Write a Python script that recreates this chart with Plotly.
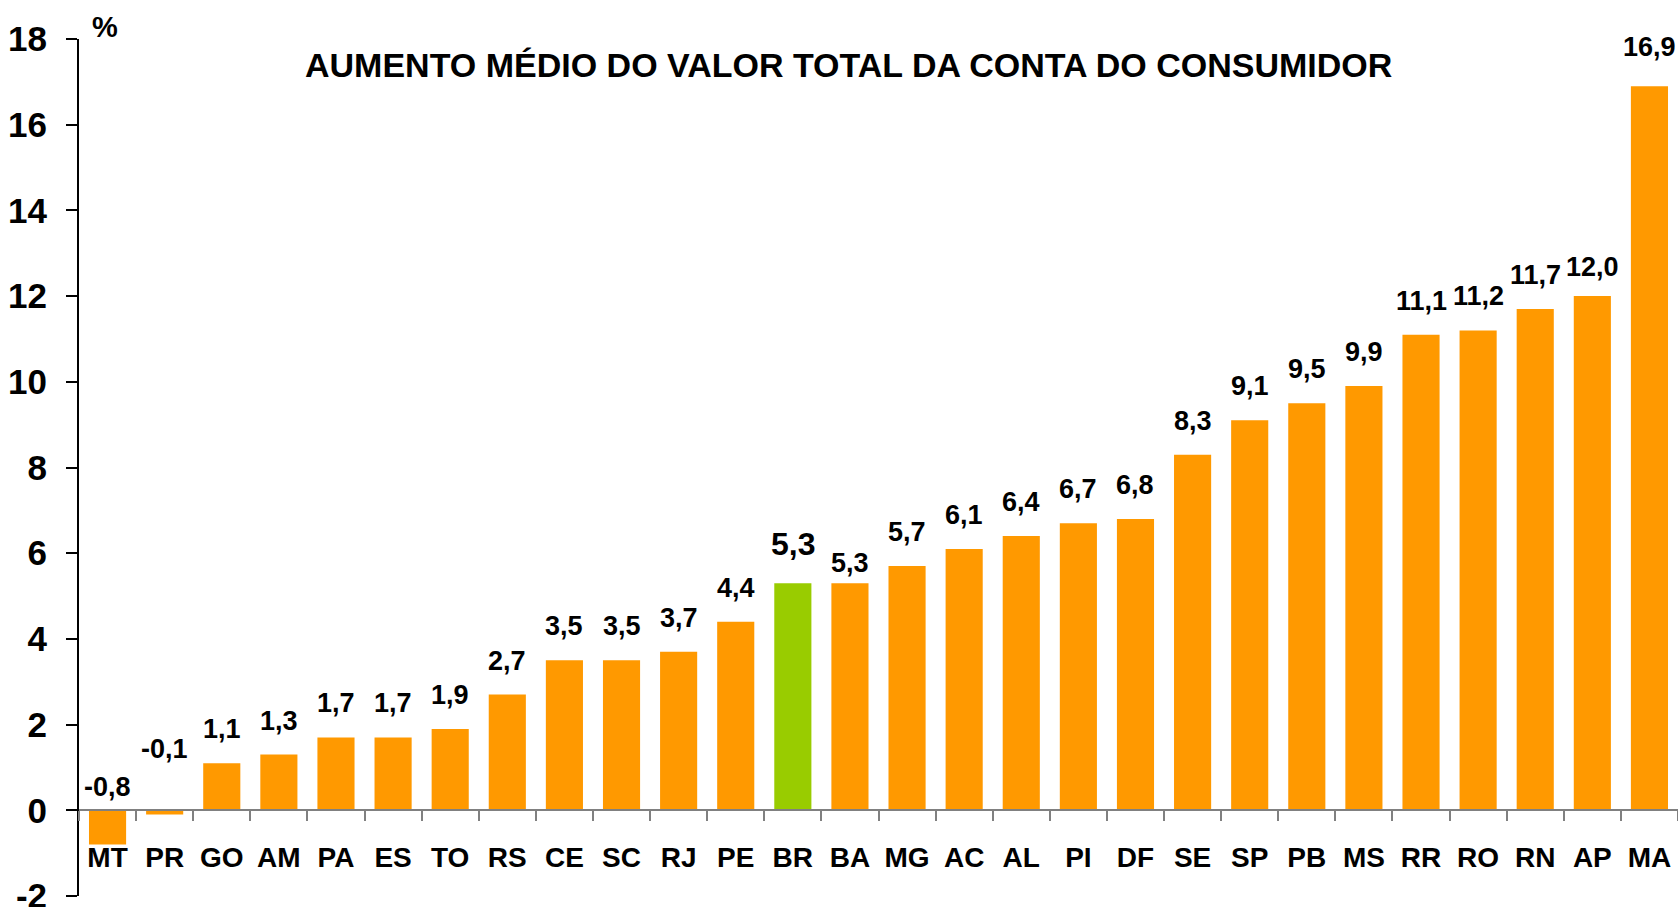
import plotly.graph_objects as go

# ---- data ----
states = ["MT", "PR", "GO", "AM", "PA", "ES", "TO", "RS", "CE", "SC", "RJ", "PE", "BR", "BA",
          "MG", "AC", "AL", "PI", "DF", "SE", "SP", "PB", "MS", "RR", "RO", "RN", "AP", "MA"]
values = [-0.8, -0.1, 1.1, 1.3, 1.7, 1.7, 1.9, 2.7, 3.5, 3.5, 3.7, 4.4, 5.3, 5.3,
          5.7, 6.1, 6.4, 6.7, 6.8, 8.3, 9.1, 9.5, 9.9, 11.1, 11.2, 11.7, 12.0, 16.9]
highlight = "BR"
y_ticks = [-2, 0, 2, 4, 6, 8, 10, 12, 14, 16, 18]
title_text = "AUMENTO MÉDIO DO VALOR TOTAL DA CONTA DO CONSUMIDOR"

# ---- style ----
ORANGE = "#FF9900"
GREEN = "#99CC00"
FONT = "Liberation Sans, Arial, sans-serif"
label_shift = 34
label_nudge = {"MT": -11, "PR": 27, "BA": -14, "BR": 5, "MA": 5, "AP": -5}

colors = [GREEN if s == highlight else ORANGE for s in states]

fig = go.Figure()
fig.add_trace(go.Bar(x=states, y=values, marker=dict(color=colors, line=dict(width=0)),
                     hoverinfo="x+y"))

def fmt(v):
    return f"{v:.1f}".replace(".", ",")

annotations = []
for s, v in zip(states, values):
    big = s == highlight
    annotations.append(dict(
        x=s, y=max(v, 0), xref="x", yref="y", text=fmt(v), showarrow=False,
        yanchor="middle", xanchor="center",
        yshift=label_shift + label_nudge.get(s, 0),
        font=dict(family=FONT, size=32 if big else 27, color="black", weight="bold"),
    ))

annotations.append(dict(
    x=(848 - 79) / 1599, y=(896 - 65) / 857, xref="paper", yref="paper",
    text=title_text, showarrow=False, xanchor="center", yanchor="middle",
    font=dict(family=FONT, size=34, color="black", weight="bold"),
))
annotations.append(dict(
    x=(105 - 79) / 1599, y=(896 - 27) / 857, xref="paper", yref="paper",
    text="%", showarrow=False, xanchor="center", yanchor="middle",
    font=dict(family=FONT, size=29, color="black", weight="bold"),
))

fig.update_layout(
    width=1678, height=907,
    margin=dict(l=79, r=0, t=39, b=11, autoexpand=False),
    paper_bgcolor="white", plot_bgcolor="white",
    bargap=0.35,
    showlegend=False,
    annotations=annotations,
    xaxis=dict(
        type="category", automargin=False,
        anchor="free", position=0.1,
        showline=True, linecolor="#808080", linewidth=1.5,
        ticks="outside", tickson="boundaries", ticklen=10, tickcolor="#808080", tickwidth=1.5,
        tickfont=dict(family=FONT, size=28, color="black", weight="bold"),
        tickangle=0,
        ticklabelstandoff=22,
        showgrid=False, zeroline=False,
    ),
    yaxis=dict(
        range=[-2, 18], tickvals=y_ticks, ticktext=[str(t) for t in y_ticks],
        automargin=False,
        showline=True, linecolor="black", linewidth=2,
        ticks="outside", ticklen=11, tickcolor="black", tickwidth=2,
        tickfont=dict(family=FONT, size=35, color="black", weight="bold"),
        ticklabelstandoff=12, ticklabeloverflow="allow",
        showgrid=False, zeroline=False,
    ),
)

fig.write_html("out.html")
